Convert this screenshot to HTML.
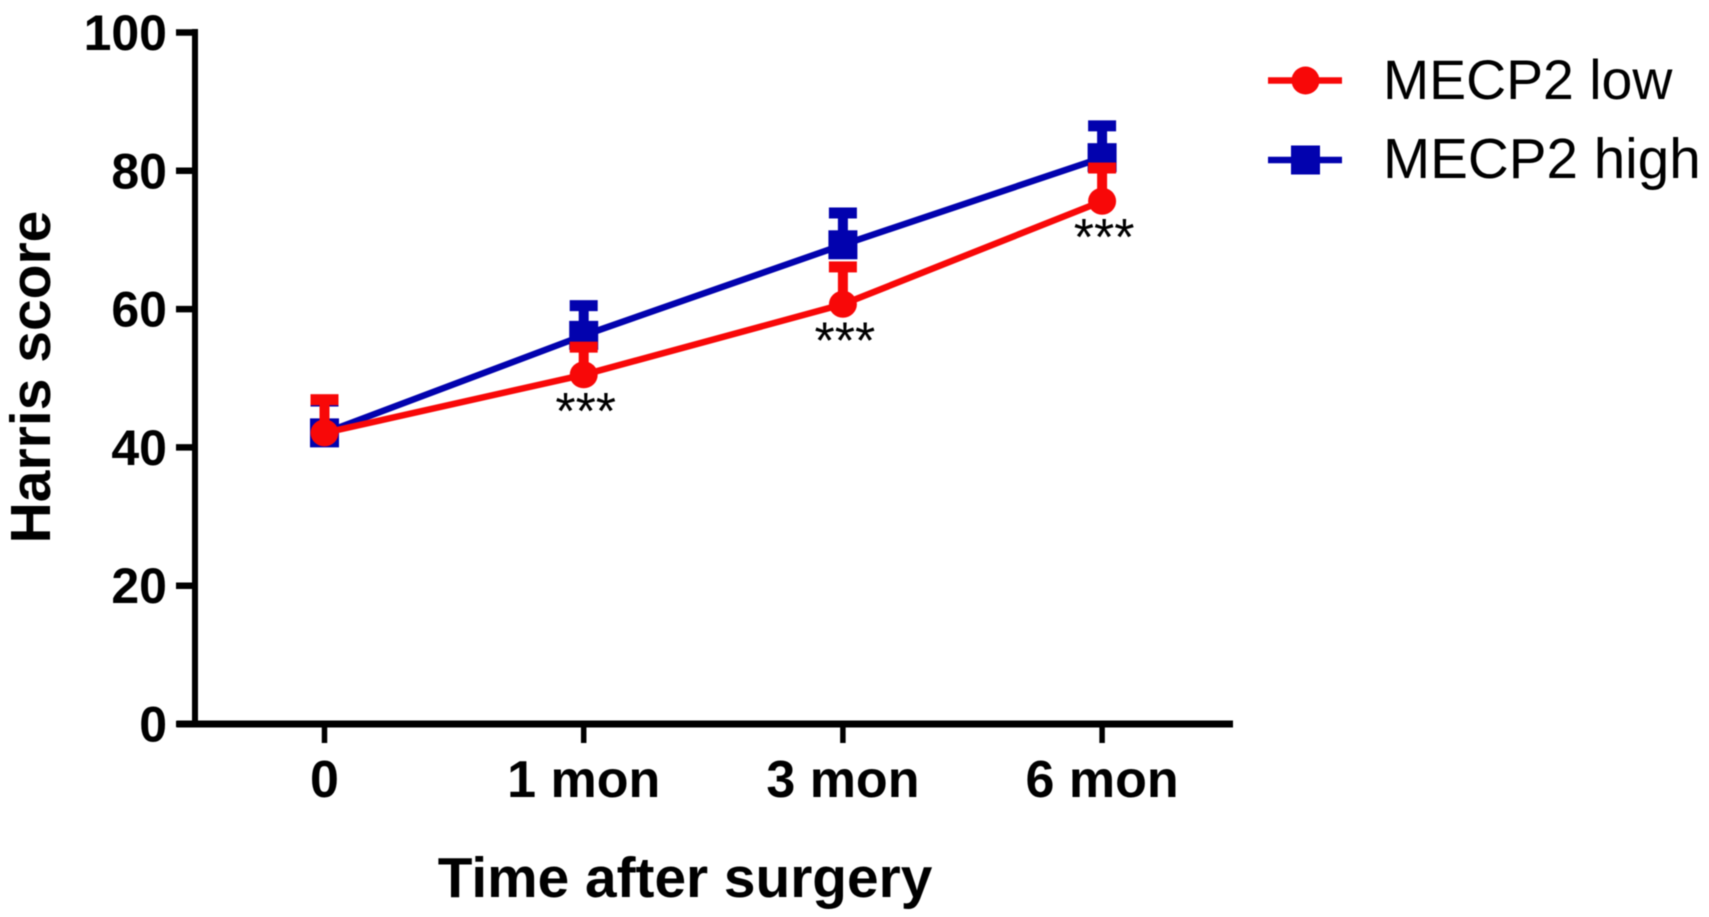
<!DOCTYPE html>
<html lang="en">
<head>
<meta charset="utf-8">
<title>Harris score over time</title>
<style>
  html, body { margin: 0; padding: 0; background: #fff; }
  body { width: 1709px; height: 917px; overflow: hidden; }
  svg { display: block; filter: blur(0.5px); }
  text { font-family: "Liberation Sans", Arial, sans-serif; fill: #000; }
  .bold { font-weight: 700; }
</style>
</head>
<body>
<svg id="chart" width="1709" height="917" viewBox="0 0 1709 917" xmlns="http://www.w3.org/2000/svg">
  <rect x="0" y="0" width="1709" height="917" fill="#fff"/>
  <g id="axes"></g>
  <g id="series"></g>
  <text class="bold" x="685" y="897" font-size="56.8" text-anchor="middle">Time after surgery</text>
  <text class="bold" transform="translate(50 377) rotate(-90)" font-size="57" text-anchor="middle">Harris score</text>
  <g>
    <g>
      <line x1="1268" y1="80.5" x2="1342" y2="80.5" stroke="#f80808" stroke-width="6.5"/>
      <circle cx="1305.5" cy="80.5" r="14" fill="#f80808"/>
      <text x="1383" y="99" font-size="55.4">MECP2 low</text>
    </g>
    <g>
      <line x1="1268" y1="160" x2="1342" y2="160" stroke="#0202ae" stroke-width="6.5"/>
      <rect x="1291" y="145.5" width="29" height="29" fill="#0202ae"/>
      <text x="1383" y="178" font-size="56.6">MECP2 high</text>
    </g>
  </g>
</svg>
<script>
const categories = ['0', '1 mon', '3 mon', '6 mon'];
const yTicks = [0, 20, 40, 60, 80, 100];
const lowMeans = [42.1, 50.5, 60.7, 75.6];
const lowErrors = [4.8, 4.0, 5.4, 4.8];
const highMeans = [42.1, 56.2, 69.3, 81.9];
const highErrors = [4.6, 4.3, 4.6, 4.6];
const significance = ['', '***', '***', '***'];

const NS = 'http://www.w3.org/2000/svg';
const RED = '#f80808';
const BLUE = '#0202ae';
const axes = document.getElementById('axes');
const seriesLayer = document.getElementById('series');

function xScale(i) { return 324.5 + i * 259.2; }
function yScale(v) { return 724 - v * 6.915; }

function make(tag, parent, attrs, text) {
  const el = document.createElementNS(NS, tag);
  for (const k in attrs) el.setAttribute(k, attrs[k]);
  if (text !== undefined) el.textContent = text;
  parent.appendChild(el);
  return el;
}

// Axis lines
const yAxisLine = make('line', axes, { x1: 195, y1: yScale(100) - 3.5, x2: 195, y2: yScale(0), stroke: '#000', 'stroke-width': 6 });


const xAxisLine = make('line', axes, { x1: 177, y1: yScale(0), x2: 1233, y2: yScale(0), stroke: '#000', 'stroke-width': 7 });



// Y ticks
yTicks.forEach(function (v) {
  const tick = make('line', axes, { x1: 176, y1: yScale(v), x2: 195, y2: yScale(v), stroke: '#000', 'stroke-width': 6.5 });
  
  
  const label = make('text', axes, { x: 167, y: yScale(v) + 17.5, 'font-size': 50, 'font-weight': 700, 'text-anchor': 'end' }, String(v));
  
  
});

// X ticks
categories.forEach(function (c, i) {
  const tick = make('line', axes, { x1: xScale(i), y1: yScale(0), x2: xScale(i), y2: 743, stroke: '#000', 'stroke-width': 5.5 });
  
  
  const label = make('text', axes, { x: xScale(i), y: 797, 'font-size': 52, 'font-weight': 700, 'text-anchor': 'middle' }, c);
  
  
});

function drawErrors(means, errors, color) {
  means.forEach(function (m, i) {
    const top = yScale(m + errors[i]);
    const stem = make('line', seriesLayer, { x1: xScale(i), y1: yScale(m), x2: xScale(i), y2: top, stroke: color, 'stroke-width': 10 });
    
    
    const cap = make('rect', seriesLayer, { x: xScale(i) - 14, y: top - 5.5, width: 28, height: 11, fill: color });
    
    
  });
}

function drawLine(means, color) {
  const pts = means.map(function (m, i) { return xScale(i) + ',' + yScale(m); }).join(' ');
  const line = make('polyline', seriesLayer, { points: pts, fill: 'none', stroke: color, 'stroke-width': 6.5, 'stroke-linejoin': 'round' });
  
  
}

// Blue series first; the red series sits on top, including its error caps
drawErrors(highMeans, highErrors, BLUE);
drawLine(highMeans, BLUE);
highMeans.forEach(function (m, i) {
  const sq = make('rect', seriesLayer, { x: xScale(i) - 14.5, y: yScale(m) - 14.5, width: 29, height: 29, fill: BLUE });
  
  
});

drawErrors(lowMeans, lowErrors, RED);
drawLine(lowMeans, RED);
lowMeans.forEach(function (m, i) {
  const dot = make('ellipse', seriesLayer, { cx: xScale(i), cy: yScale(m), rx: 14, ry: 13.5, fill: RED });
  
  
});

// Significance markers placed relative to the low series
significance.forEach(function (s, i) {
  if (!s) return;
  const mark = make('text', seriesLayer, { x: xScale(i) + 2, y: yScale(lowMeans[i]) + 54, 'font-size': 52, 'text-anchor': 'middle' }, s);
  
  
});
</script>
</body>
</html>
